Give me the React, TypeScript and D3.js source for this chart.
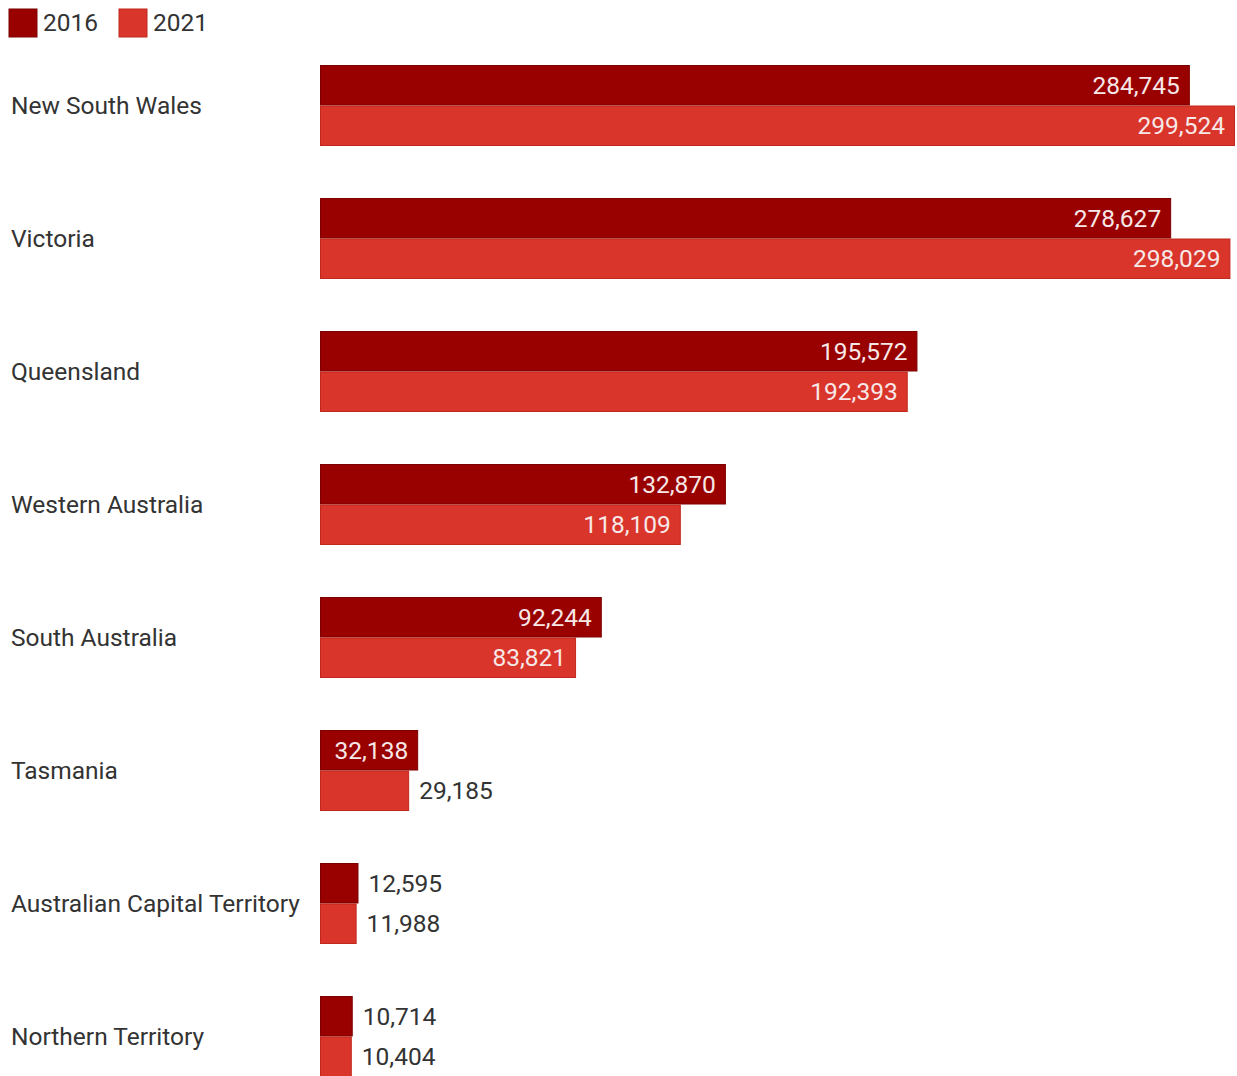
import React from "react";
import * as d3 from "d3";

const categories = [
  "New South Wales",
  "Victoria",
  "Queensland",
  "Western Australia",
  "South Australia",
  "Tasmania",
  "Australian Capital Territory",
  "Northern Territory",
];
const series2016 = [284745, 278627, 195572, 132870, 92244, 32138, 12595, 10714];
const series2021 = [299524, 298029, 192393, 118109, 83821, 29185, 11988, 10404];
const seriesNames = ["2016", "2021"];
const colors = ["#990000", "#d9352b"];
const strokes = ["#7d0000", "#c0281f"];

const W = 1237;
const H = 1076;
const FONT = "Roboto, 'Noto Sans', sans-serif";
const FS = 24.5;

let ctx: CanvasRenderingContext2D | null = null;
function measure(t: string): number {
  if (!ctx) {
    const c = document.createElement("canvas");
    ctx = c.getContext("2d");
  }
  if (!ctx) return t.length * 12;
  ctx.font = `${FS}px Roboto`;
  return ctx.measureText(t).width;
}

export default function App() {
  const x = d3.scaleLinear().domain([0, 299524]).range([320, 1235]);
  const y = d3
    .scaleBand<string>()
    .domain(categories)
    .range([65, 65 + 133 * categories.length])
    .paddingInner(0)
    .paddingOuter(0);
  const barH = 40.5;
  const fmt = d3.format(",");
  const data = [series2016, series2021];

  return (
    <svg
      width={W}
      height={H}
      style={{ position: "absolute", left: 0, top: 0, background: "#fff" }}
      fontFamily={FONT}
    >
      {seriesNames.map((s, i) => {
        const lx = [9, 119][i];
        return (
          <g key={s}>
            <rect x={lx} y={9} width={28} height={28} fill={colors[i]} stroke={strokes[i]} strokeWidth={1} />
            <text x={lx + 34} y={31} fontSize={FS} fill="#333">
              {s}
            </text>
          </g>
        );
      })}
      {categories.map((c, ci) => {
        const gy = y(c)!;
        return (
          <g key={c}>
            <text x={11} y={gy + barH} dy="0.35em" fontSize={FS} fill="#333">
              {c}
            </text>
            {data.map((vals, si) => {
              const v = vals[ci];
              const x0 = x(0);
              const x1 = x(v);
              const by = gy + si * barH;
              const label = fmt(v);
              const tw = measure(label);
              const inside = x1 - x0 >= tw + 20;
              return (
                <g key={si}>
                  <rect
                    x={x0 + 0.5}
                    y={by + 0.5}
                    width={x1 - x0 - 1}
                    height={barH - 1}
                    fill={colors[si]}
                    stroke={strokes[si]}
                    strokeWidth={1}
                  />
                  <text
                    x={inside ? x1 - 10 : x1 + 10}
                    y={by + barH / 2}
                    dy="0.35em"
                    fontSize={FS}
                    textAnchor={inside ? "end" : "start"}
                    fill={inside ? "#f7e8e8" : "#333"}
                  >
                    {label}
                  </text>
                </g>
              );
            })}
          </g>
        );
      })}
    </svg>
  );
}
